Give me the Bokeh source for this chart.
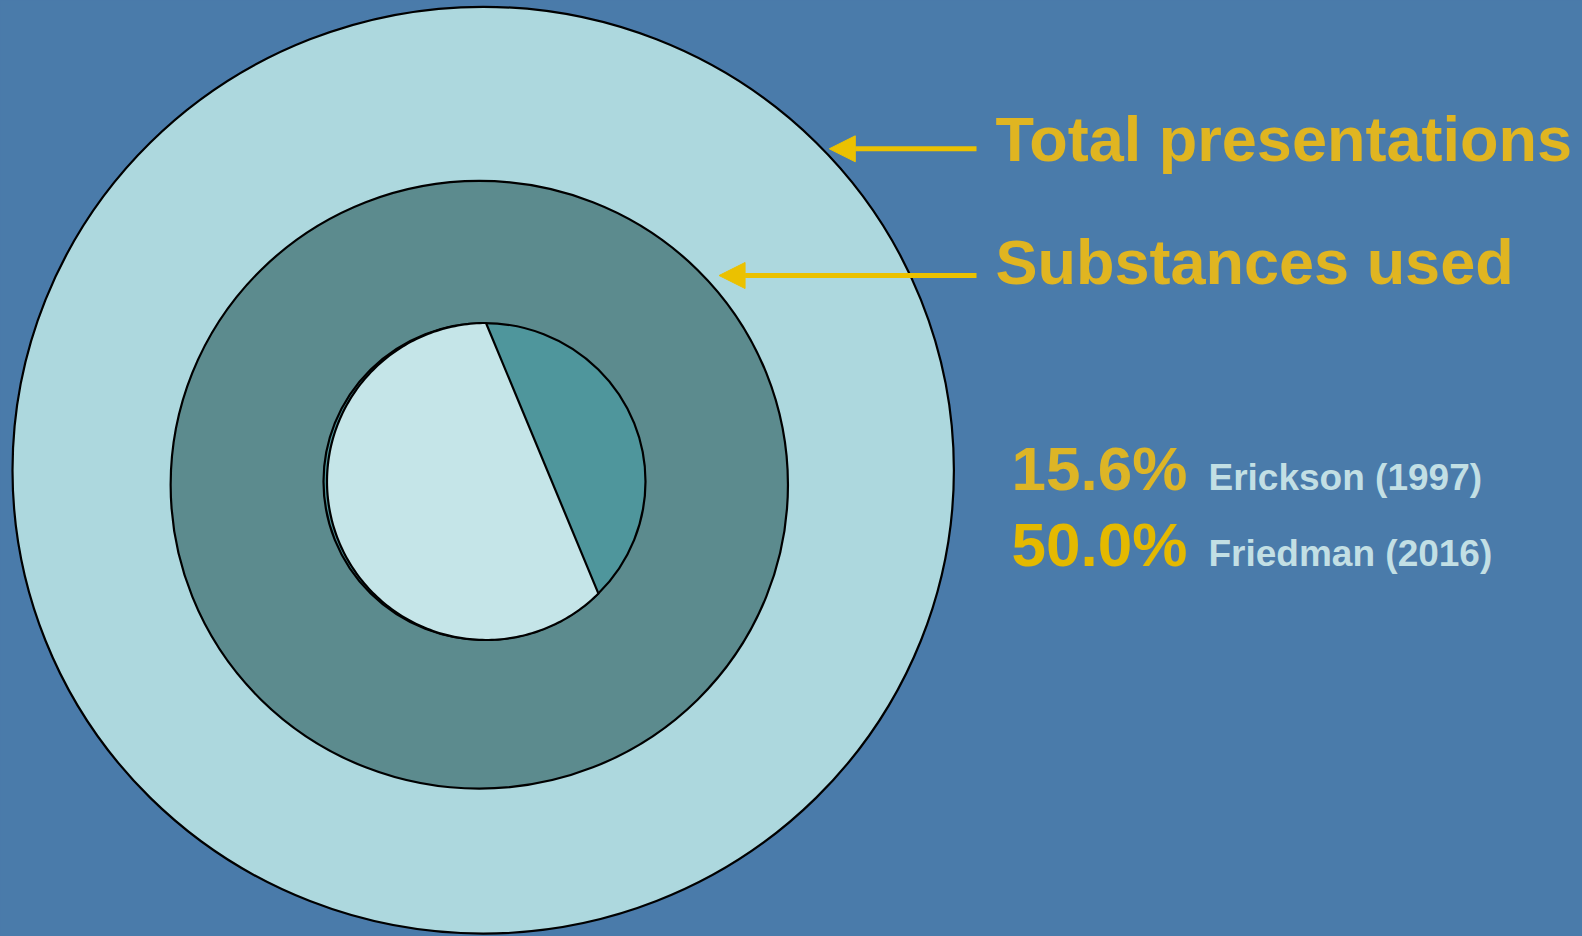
import numpy as np
from bokeh.plotting import figure
from bokeh.models import Range1d, Arrow, NormalHead, ColumnDataSource
from bokeh.core.properties import value
from bokeh.embed import file_html
from bokeh.resources import INLINE

# ---------------- data ----------------
circle_names = ["Total presentations", "Substances used", "Sample"]
circle_area_pct = [100.0, 43.0, 11.7]          # area relative to total
inner_split_deg = [90.0, -45.0]                # chord splitting inner circle
label_names = ["Total presentations", "Substances used"]
stat_pct = [15.6, 50.0]
stat_source = ["Erickson (1997)", "Friedman (2016)"]

# ---------------- layout / style ----------------
W, H = 1582, 936
ASPECT = 0.9845            # vertical px per data unit (slightly squashed circles)
R_OUT = 470.7
centers_px = [(482.7, 469.7), (478.8, 484.3), (484.0, 481.0)]
BG = "#4A7BAA"
FILLS = ["#ADD8DE", "#5C8B8E", "#4F969C"]
INNER_LIGHT = "#C5E5E8"
YEL = "#E0B521"
ARROW_YEL = "#EBC100"
STAT_COLS = ["#DDB526", "#E4B900"]
SRC_COL = "#C2DFE4"
FONT = value("Liberation Sans")
BASE_FIX = 0.37            # renderer places alphabetic baseline a bit low


def yd(py):
    return py / ASPECT


def ybase(py, size):
    return yd(py - BASE_FIX * size)


radii = [R_OUT * np.sqrt(v / 100.0) for v in circle_area_pct]
cx = [c[0] for c in centers_px]
cy = [yd(c[1]) for c in centers_px]

p = figure(width=W, height=H, output_backend="svg", toolbar_location=None,
           x_range=Range1d(0, W), y_range=Range1d(yd(H), yd(0)),
           x_axis_type=None, y_axis_type=None, min_border=0,
           background_fill_color=BG, border_fill_color=BG, outline_line_color=None)
p.grid.visible = False

src = ColumnDataSource(dict(x=cx, y=cy, w=[2 * r for r in radii],
                            fill=FILLS, name=circle_names))
p.ellipse(x="x", y="y", width="w", height="w", fill_color="fill",
          line_color="black", line_width=2.2, source=src)

# inner light segment (cut by chord)
ri = radii[2]
a0, a1 = inner_split_deg
t = np.radians(np.linspace(a0, a1 + 360.0, 200))
rx_l = ri - 2.0
xs = cx[2] + 1.5 + rx_l * np.cos(t)
ys = cy[2] - ri * np.sin(t)
p.patch(xs, ys, fill_color=INNER_LIGHT, line_color="black", line_width=2.2,
        line_join="round")

# labels and arrows
TITLE_SIZE, STAT_SIZE, SRC_SIZE = 63, 62, 37
label_base_px = [161.7, 284.5]
arrow_y_px = [148.3, 275.0]
arrow_gap = [7.0, 16.0]
arrow_start_x = 976.0
for i, name in enumerate(label_names):
    yy = yd(arrow_y_px[i])
    r = radii[i]
    dy = (yy - cy[i]) / r
    edge_x = cx[i] + r * np.sqrt(max(0.0, 1 - dy * dy))
    p.add_layout(Arrow(end=NormalHead(size=26, fill_color=ARROW_YEL,
                                      line_color=ARROW_YEL, line_width=1),
                       x_start=arrow_start_x, y_start=yy,
                       x_end=edge_x + arrow_gap[i], y_end=yy,
                       line_color=ARROW_YEL, line_width=5))

p.text(x=[995, 995], y=[ybase(v, TITLE_SIZE) for v in label_base_px], text=label_names,
       text_font=FONT, text_font_style="bold", text_font_size=f"{TITLE_SIZE}px",
       text_color=YEL, text_align="left", text_baseline="alphabetic")

stat_base_px = [490.7, 566.7]
p.text(x=[1011, 1011], y=[ybase(v, STAT_SIZE) for v in stat_base_px],
       text=[f"{v:.1f}%" for v in stat_pct], text_color=STAT_COLS,
       text_font=FONT, text_font_style="bold", text_font_size=f"{STAT_SIZE}px",
       text_align="left", text_baseline="alphabetic")
p.text(x=[1208, 1208], y=[ybase(v, SRC_SIZE) for v in stat_base_px], text=stat_source,
       text_font=FONT, text_font_style="bold", text_font_size=f"{SRC_SIZE}px",
       text_color=SRC_COL, text_align="left", text_baseline="alphabetic")

html = file_html(p, INLINE, title="Substance use presentations")
html = html.replace("</head>", "<style>html,body{background:%s;}</style></head>" % BG, 1)
open("out.html", "w").write(html)
